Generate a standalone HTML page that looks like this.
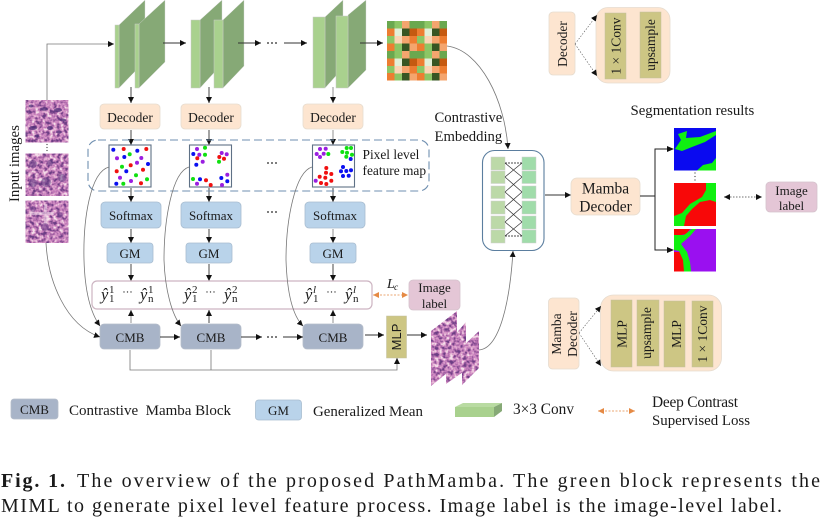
<!DOCTYPE html>
<html><head><meta charset="utf-8">
<style>html,body{margin:0;padding:0;background:#fff}svg{display:block;filter:blur(.3px)}
text{font-family:"Liberation Serif",serif;fill:#1a1a1a}
.c{text-anchor:middle}
.l{fill:none;stroke:#333;stroke-width:.9}
.g{fill:none;stroke:#777;stroke-width:.8}
.f{fill:#a9d18e;stroke:#c9c9c9;stroke-width:.5}
.s{fill:#86a976;stroke:#d8d8d8;stroke-width:.4}
.dec{fill:#fde5d0;stroke:#e6dccf;stroke-width:.8}
.bl{fill:#b9d3ea;stroke:#a9bdd0;stroke-width:.8}
.cm{fill:#a8b4c8;stroke:#b5bdca;stroke-width:.8}
.pk{fill:#e4c6d6;stroke:#d5c3cd;stroke-width:.8}
.ol{fill:#cdc684;stroke:#c2bfa0;stroke-width:.5}
.m{fill:#fff;stroke:#5f7186;stroke-width:1.1}
</style></head><body>
<svg width="831" height="521" viewBox="0 0 831 521" xmlns="http://www.w3.org/2000/svg">
<defs>
<marker id="a" markerUnits="userSpaceOnUse" markerWidth="8" markerHeight="8" refX="6" refY="3" orient="auto"><path d="M0,0 L6,3 L0,6 Z" fill="#111"/></marker>
<marker id="o" markerUnits="userSpaceOnUse" markerWidth="8" markerHeight="8" refX="6" refY="3" orient="auto-start-reverse"><path d="M0,0 L6,3 L0,6 Z" fill="#e58a45"/></marker>
<marker id="k" markerUnits="userSpaceOnUse" markerWidth="8" markerHeight="8" refX="6" refY="3" orient="auto-start-reverse"><path d="M0,0 L6,3 L0,6 Z" fill="#111"/></marker>
<filter id="h" x="0" y="0" width="1" height="1" color-interpolation-filters="sRGB">
<feTurbulence type="fractalNoise" baseFrequency="0.28" numOctaves="2" seed="7"/>
<feColorMatrix type="matrix" values="2.2 0 0 0 -.6  2.2 0 0 0 -.6  2.2 0 0 0 -.6  0 0 0 0 1"/>
<feComponentTransfer><feFuncR type="table" tableValues=".42 .6 .78 .87 .96"/><feFuncG type="table" tableValues=".24 .36 .5 .64 .88"/><feFuncB type="table" tableValues=".52 .62 .74 .8 .92"/></feComponentTransfer>
<feComposite operator="in" in2="SourceGraphic"/>
</filter>
</defs>

<!-- conv blocks -->
<polygon class="s" points="119,25 145,0 145,61 119,88"/><rect class="f" x="115" y="25" width="4" height="63"/>
<polygon class="s" points="139,24 165,0 165,62 139,88"/><rect class="f" x="135" y="24" width="4" height="64"/>
<polygon class="s" points="200,20 222,0 222,64 200,88"/><rect class="f" x="191" y="20" width="9" height="68"/>
<polygon class="s" points="223,20 244,0 244,66 223,88"/><rect class="f" x="214" y="20" width="9" height="68"/>
<polygon class="s" points="325,17 343,0 343,68 325,88"/><rect class="f" x="313" y="17" width="12" height="71"/>
<polygon class="s" points="348,15 366,0 366,70 348,88"/><rect class="f" x="336" y="16" width="12" height="72"/>

<!-- mosaic -->
<g stroke="none">
<rect x="387" y="21" width="60" height="59.5" fill="#6aa84f"/>
<g fill="#8cc665"><rect x="394.5" y="21" width="7.5" height="7.5"/><rect x="424.5" y="21" width="7.5" height="7.5"/><rect x="387" y="36" width="7.5" height="7.5"/><rect x="417" y="36" width="7.5" height="7.5"/><rect x="394.5" y="43.5" width="7.5" height="7.5"/><rect x="424.5" y="43.5" width="7.5" height="7.5"/><rect x="394.5" y="51" width="7.5" height="7.5"/><rect x="424.5" y="51" width="7.5" height="7.5"/><rect x="387" y="66" width="7.5" height="7.5"/><rect x="417" y="66" width="7.5" height="7.5"/><rect x="394.5" y="73" width="7.5" height="7.5"/><rect x="424.5" y="73" width="7.5" height="7.5"/></g>
<g fill="#f4a56e"><rect x="402" y="21" width="7.5" height="7.5"/><rect x="432" y="21" width="7.5" height="7.5"/><rect x="409.5" y="43.5" width="7.5" height="7.5"/><rect x="439.5" y="43.5" width="7.5" height="7.5"/><rect x="402" y="51" width="7.5" height="7.5"/><rect x="432" y="51" width="7.5" height="7.5"/><rect x="402" y="36" width="7.5" height="7.5"/><rect x="432" y="36" width="7.5" height="7.5"/><rect x="402" y="66" width="7.5" height="7.5"/><rect x="432" y="66" width="7.5" height="7.5"/><rect x="409.5" y="73" width="7.5" height="7.5"/><rect x="439.5" y="73" width="7.5" height="7.5"/></g>
<g fill="#ed7d31"><rect x="387" y="28.5" width="7.5" height="7.5"/><rect x="417" y="28.5" width="7.5" height="7.5"/><rect x="409.5" y="36" width="7.5" height="7.5"/><rect x="439.5" y="36" width="7.5" height="7.5"/><rect x="387" y="43.5" width="7.5" height="7.5"/><rect x="417" y="43.5" width="7.5" height="7.5"/><rect x="387" y="58.5" width="7.5" height="7.5"/><rect x="417" y="58.5" width="7.5" height="7.5"/><rect x="409.5" y="66" width="7.5" height="7.5"/><rect x="439.5" y="66" width="7.5" height="7.5"/><rect x="387" y="73" width="7.5" height="7.5"/><rect x="417" y="73" width="7.5" height="7.5"/></g>
<g fill="#e2efd9"><rect x="394.5" y="28.5" width="7.5" height="7.5"/><rect x="424.5" y="28.5" width="7.5" height="7.5"/><rect x="394.5" y="58.5" width="7.5" height="7.5"/><rect x="424.5" y="58.5" width="7.5" height="7.5"/></g>
<g fill="#fbd5b5"><rect x="394.5" y="36" width="7.5" height="7.5"/><rect x="424.5" y="36" width="7.5" height="7.5"/><rect x="394.5" y="66" width="7.5" height="7.5"/><rect x="424.5" y="66" width="7.5" height="7.5"/></g>
<g fill="#375623"><rect x="402" y="28.5" width="7.5" height="7.5"/><rect x="432" y="28.5" width="7.5" height="7.5"/><rect x="402" y="43.5" width="7.5" height="7.5"/><rect x="432" y="43.5" width="7.5" height="7.5"/><rect x="402" y="58.5" width="7.5" height="7.5"/><rect x="432" y="58.5" width="7.5" height="7.5"/><rect x="402" y="73" width="7.5" height="7.5"/><rect x="432" y="73" width="7.5" height="7.5"/></g>
<g fill="#c55a11"><rect x="409.5" y="28.5" width="7.5" height="7.5"/><rect x="439.5" y="28.5" width="7.5" height="7.5"/><rect x="409.5" y="58.5" width="7.5" height="7.5"/><rect x="439.5" y="58.5" width="7.5" height="7.5"/></g>
</g>

<!-- top flow -->
<path class="g" d="M47,100 V44 H114" marker-end="url(#a)"/>
<path class="l" d="M163,43 H186" marker-end="url(#a)"/>
<path class="l" d="M238,43 H261" marker-end="url(#a)"/>
<path class="l" d="M284,43 H307" marker-end="url(#a)"/>
<path class="l" d="M360,43 H383" marker-end="url(#a)"/>
<g fill="#222"><circle cx="268" cy="43" r=".9"/><circle cx="272" cy="43" r=".9"/><circle cx="276" cy="43" r=".9"/>
<circle cx="268" cy="163" r=".9"/><circle cx="272" cy="163" r=".9"/><circle cx="276" cy="163" r=".9"/>
<circle cx="268" cy="212" r=".9"/><circle cx="272" cy="212" r=".9"/><circle cx="276" cy="212" r=".9"/>
<circle cx="268" cy="297" r=".9"/><circle cx="272" cy="297" r=".9"/><circle cx="276" cy="297" r=".9"/>
<circle cx="268" cy="337" r=".9"/><circle cx="272" cy="337" r=".9"/><circle cx="276" cy="337" r=".9"/></g>

<!-- vertical arrows -->
<path class="l" d="M131,87 V103" marker-end="url(#a)"/><path class="l" d="M209,87 V103" marker-end="url(#a)"/><path class="g" d="M333,87 V103" marker-end="url(#a)"/>
<path class="l" d="M131,130 V145" marker-end="url(#a)"/><path class="l" d="M209,130 V145" marker-end="url(#a)"/><path class="g" d="M333,130 V145" marker-end="url(#a)"/>
<path class="l" d="M131,188 V202" marker-end="url(#a)"/><path class="l" d="M209,188 V202" marker-end="url(#a)"/><path class="l" d="M333,188 V202" marker-end="url(#a)"/>
<path class="l" d="M131,229 V243" marker-end="url(#a)"/><path class="l" d="M209,229 V243" marker-end="url(#a)"/><path class="g" d="M333,229 V243" marker-end="url(#a)"/>
<path class="l" d="M131,264 V281" marker-end="url(#a)"/><path class="l" d="M209,264 V281" marker-end="url(#a)"/><path class="l" d="M333,264 V281" marker-end="url(#a)"/>
<path class="g" d="M131,323 V310" marker-end="url(#a)"/><path class="l" d="M209,323 V310" marker-end="url(#a)"/><path class="g" d="M333,323 V310" marker-end="url(#a)"/>

<!-- Decoder -->
<rect class="dec" x="100" y="104" width="60" height="25" rx="4"/><rect class="dec" x="181" y="104" width="60" height="25" rx="4"/><rect class="dec" x="303" y="104" width="60" height="25" rx="4"/>
<g font-size="13.5"><text class="c" x="130" y="122">Decoder</text><text class="c" x="211" y="122">Decoder</text><text class="c" x="333" y="122">Decoder</text></g>

<!-- dashed -->
<rect x="88" y="140" width="341" height="51" rx="10" fill="none" stroke="#6f8fb0" stroke-width="1.1" stroke-dasharray="8 4"/>

<!-- maps -->
<rect class="m" x="109" y="145" width="42" height="42"/><rect class="m" x="189.500" y="145" width="42" height="42"/><rect class="m" x="312.500" y="145" width="42" height="42"/>
<g fill="#0a0ff0">
<circle cx="113.300" cy="149.700" r="2"/><circle cx="137.300" cy="150.700" r="2"/><circle cx="124.300" cy="157" r="2"/><circle cx="148" cy="164" r="2"/><circle cx="126.300" cy="171.300" r="2"/><circle cx="116.300" cy="183.700" r="2"/>
<circle cx="193.300" cy="154" r="2"/><circle cx="196.300" cy="164.700" r="2"/><circle cx="200" cy="179.300" r="2"/><circle cx="221.300" cy="178" r="2"/><circle cx="227.300" cy="181.300" r="2"/>
<circle cx="350.700" cy="159" r="2"/><circle cx="343" cy="167" r="2"/><circle cx="341" cy="171.300" r="2"/><circle cx="346.300" cy="171" r="2"/><circle cx="351" cy="170.300" r="2"/><circle cx="343" cy="176" r="2"/><circle cx="348.700" cy="175.700" r="2"/></g>
<g fill="#f01010">
<circle cx="123.700" cy="149" r="2"/><circle cx="146.300" cy="149" r="2"/><circle cx="130.700" cy="165.300" r="2"/><circle cx="116.700" cy="171.300" r="2"/><circle cx="143" cy="169.700" r="2"/><circle cx="141" cy="183.300" r="2"/>
<circle cx="219.300" cy="157" r="2"/><circle cx="224" cy="158.700" r="2"/><circle cx="197.300" cy="158.300" r="2"/><circle cx="206" cy="180.300" r="2"/><circle cx="210.700" cy="185" r="2"/>
<circle cx="326.300" cy="168" r="2"/><circle cx="326" cy="172.700" r="2"/><circle cx="331.300" cy="174" r="2"/><circle cx="319.700" cy="176.700" r="2"/><circle cx="325.300" cy="177.700" r="2"/><circle cx="331.300" cy="180.700" r="2"/><circle cx="321" cy="183" r="2"/><circle cx="326.300" cy="184" r="2"/></g>
<g fill="#10e010">
<circle cx="129.700" cy="154.300" r="2"/><circle cx="122" cy="166.700" r="2"/><circle cx="136" cy="175.300" r="2"/><circle cx="147" cy="179.300" r="2"/><circle cx="123.300" cy="183.700" r="2"/>
<circle cx="205" cy="147.700" r="2"/><circle cx="205" cy="154.700" r="2"/><circle cx="219" cy="161.700" r="2"/><circle cx="193" cy="179" r="2"/>
<circle cx="328.300" cy="154" r="2"/><circle cx="342.300" cy="152" r="2"/><circle cx="346.700" cy="148" r="2"/><circle cx="351" cy="148" r="2"/><circle cx="347" cy="152.700" r="2"/><circle cx="352" cy="154.700" r="2"/><circle cx="346.300" cy="156.700" r="2"/></g>
<g fill="#9a1ee0">
<circle cx="117" cy="158.300" r="2"/><circle cx="141.300" cy="158" r="2"/><circle cx="137" cy="162.700" r="2"/><circle cx="120" cy="177.700" r="2"/><circle cx="131" cy="181" r="2"/>
<circle cx="197" cy="149" r="2"/><circle cx="199.300" cy="154.700" r="2"/><circle cx="221.700" cy="153" r="2"/><circle cx="226.700" cy="154.300" r="2"/><circle cx="202.700" cy="161.700" r="2"/><circle cx="227.300" cy="174.700" r="2"/><circle cx="197" cy="183.700" r="2"/><circle cx="222" cy="185" r="2"/>
<circle cx="320" cy="149" r="2"/><circle cx="325.700" cy="148.700" r="2"/><circle cx="316.700" cy="154" r="2"/><circle cx="323.700" cy="153.700" r="2"/><circle cx="320" cy="157" r="2"/><circle cx="315.700" cy="180.700" r="2"/></g>

<text x="362.500" y="159" font-size="13.400">Pixel level</text>
<text x="362.500" y="175" font-size="13.400">feature map</text>

<!-- Softmax / GM -->
<rect class="bl" x="101" y="202" width="60" height="26" rx="4"/><rect class="bl" x="181" y="202" width="60" height="26" rx="4"/><rect class="bl" x="305" y="202" width="60" height="26" rx="4"/>
<g font-size="13"><text class="c" x="131" y="220">Softmax</text><text class="c" x="211" y="220">Softmax</text><text class="c" x="335" y="220">Softmax</text></g>
<rect class="bl" x="107" y="243" width="46" height="20" rx="3"/><rect class="bl" x="186" y="243" width="46" height="20" rx="3"/><rect class="bl" x="310" y="243" width="46" height="20" rx="3"/>
<g font-size="13"><text class="c" x="130" y="258">GM</text><text class="c" x="209" y="258">GM</text><text class="c" x="333" y="258">GM</text></g>

<!-- y hat box -->
<rect x="92" y="281" width="280" height="28" rx="5" fill="#fff" stroke="#cdb5c2" stroke-width="1.200"/>
<g font-size="16.500" font-style="italic">
<text x="101" y="300">ŷ</text><text x="140" y="300">ŷ</text><text x="184" y="300">ŷ</text><text x="224" y="300">ŷ</text><text x="305" y="300">ŷ</text><text x="345" y="300">ŷ</text></g>
<g font-size="11">
<text x="109" y="293">1</text><text x="109" y="302">1</text><text x="148" y="293">1</text><text x="148" y="302">n</text>
<text x="192" y="293">2</text><text x="192" y="302">1</text><text x="232" y="293">2</text><text x="232" y="302">n</text>
<text x="313" y="293" font-style="italic">l</text><text x="313" y="302">1</text><text x="353" y="293" font-style="italic">l</text><text x="353" y="302">n</text></g>
<g fill="#444"><circle cx="124" cy="292" r=".7"/><circle cx="127.500" cy="292" r=".7"/><circle cx="131" cy="292" r=".7"/>
<circle cx="207" cy="292" r=".7"/><circle cx="210.500" cy="292" r=".7"/><circle cx="214" cy="292" r=".7"/>
<circle cx="328" cy="292" r=".7"/><circle cx="331.500" cy="292" r=".7"/><circle cx="335" cy="292" r=".7"/></g>
<text x="387" y="288" font-size="14" font-style="italic">L</text><text x="394" y="290" font-size="9.500" font-style="italic">c</text>
<path d="M373,295 H408" fill="none" stroke="#e58a45" stroke-width=".8" stroke-dasharray="2 1.500" marker-start="url(#o)" marker-end="url(#o)"/>
<rect class="pk" x="409" y="280" width="51" height="30" rx="4"/>
<text class="c" x="434.500" y="292" font-size="13">Image</text><text class="c" x="434.500" y="308" font-size="13">label</text>

<!-- CMB -->
<rect class="cm" x="100" y="324" width="60" height="25" rx="4"/><rect class="cm" x="181" y="324" width="60" height="25" rx="4"/><rect class="cm" x="303" y="324" width="60" height="25" rx="4"/>
<g font-size="13"><text class="c" x="130" y="342">CMB</text><text class="c" x="211" y="342">CMB</text><text class="c" x="333" y="342">CMB</text></g>
<path class="l" d="M160,337 H180" marker-end="url(#a)"/>
<path class="l" d="M241,337 H262" marker-end="url(#a)"/>
<path class="l" d="M283,337 H303" marker-end="url(#a)"/>
<path class="l" d="M365,335 H384" marker-end="url(#a)"/>
<path class="l" d="M407,335 H427" marker-end="url(#a)"/>
<rect class="ol" x="386.500" y="316" width="20" height="42"/>
<text transform="translate(401,337) rotate(-90)" class="c" font-size="13" style="font-family:'Liberation Sans',sans-serif">MLP</text>
<path class="g" d="M130,350 V370 H397 V358" marker-end="url(#a)"/>
<path class="g" d="M211,350 V370" stroke="#aaa"/>

<!-- input images -->
<rect x="25.500" y="100" width="43" height="42.500" fill="#c47fb5" filter="url(#h)"/>
<g fill="#4f2f78" opacity=".75"><ellipse cx="31" cy="106" rx="2.500" ry="1.500"/><ellipse cx="44" cy="109" rx="4" ry="1.800"/><ellipse cx="58" cy="110" rx="4" ry="2"/><ellipse cx="63" cy="120" rx="3" ry="1.500"/><ellipse cx="50" cy="128" rx="3" ry="2"/><ellipse cx="33" cy="128" rx="4" ry="2"/><ellipse cx="59" cy="132" rx="3" ry="1.500"/><ellipse cx="37" cy="136" rx="2.500" ry="1.500"/></g>
<rect x="25.500" y="153.500" width="43" height="42.500" fill="#b777ae" filter="url(#h)"/>
<g fill="#5a3a80" opacity=".5"><circle cx="33" cy="164" r="4"/><circle cx="46" cy="182" r="5"/><circle cx="33" cy="183" r="4"/><circle cx="62" cy="178" r="4"/><circle cx="50" cy="163" r="3"/></g>
<rect x="25.500" y="200.500" width="43" height="42.500" fill="#c98fc0" filter="url(#h)"/>
<g fill="#f3e3ef" opacity=".5"><rect x="30" y="212" width="24" height="3"/><rect x="44" y="204" width="3" height="20"/></g>
<g fill="#6d3f8a" opacity=".5"><circle cx="45" cy="227" r="4"/><circle cx="33" cy="209" r="3"/><circle cx="60" cy="215" r="3"/></g>
<g fill="#333"><circle cx="47" cy="144.500" r=".6"/><circle cx="47" cy="147.500" r=".6"/><circle cx="47" cy="150.500" r=".6"/></g>
<text transform="translate(19,202) rotate(-90)" font-size="14.800">Input images</text>

<!-- curves -->
<path class="g" d="M46,243 C48,280 65,325 100,337" marker-end="url(#a)"/>
<path class="g" d="M109,167 C90,172 83,220 84,260 C85,295 92,315 100,326" marker-end="url(#a)"/>
<path class="g" d="M189,167 C172,172 164,220 164,260 C165,290 172,315 181,326" marker-end="url(#a)"/>
<path class="g" d="M312,167 C295,172 286,220 286,260 C287,290 292,315 303,326" marker-end="url(#a)"/>
<path class="g" d="M447,46 C480,50 505,100 508,149" marker-end="url(#a)"/>
<path class="g" d="M478,350 C500,350 510,300 513,251" marker-end="url(#a)"/>

<!-- stack -->
<polygon points="431,331 457,311 457,365 431,386" fill="#b56aa8" filter="url(#h)"/>
<polygon points="446,345 466,322 466,370 446,384" fill="#b56aa8" filter="url(#h)"/>
<polygon points="462,347 479,331 479,368 462,385" fill="#c389bb" filter="url(#h)"/>

<!-- contrastive embedding -->
<text x="434.500" y="122" font-size="14.700">Contrastive</text>
<text x="434.500" y="141" font-size="14.700">Embedding</text>
<rect x="482.500" y="150.500" width="61.500" height="100" rx="12" fill="#fff" stroke="#5b7e9f" stroke-width="1.100"/>
<g fill="#bcd9a8" stroke="#cfcfcf" stroke-width=".5"><rect x="491" y="157" width="14" height="13"/><rect x="491" y="171" width="14" height="12.500"/><rect x="491" y="186" width="14" height="12.500"/><rect x="491" y="201" width="14" height="13"/><rect x="491" y="216" width="14" height="13"/><rect x="491" y="230" width="14" height="13"/></g>
<g fill="#a0dcaa" stroke="#cfcfcf" stroke-width=".5"><rect x="522" y="157" width="14" height="13"/><rect x="522" y="171" width="14" height="12.500"/><rect x="522" y="186" width="14" height="12.500"/><rect x="522" y="201" width="14" height="13"/><rect x="522" y="216" width="14" height="13"/><rect x="522" y="230" width="14" height="13"/></g>
<path fill="none" stroke="#333" stroke-width=".7" d="M505,163 L522,177 M505,177 L522,163 M505,177 L522,192 M505,192 L522,177 M505,192 L522,207 M505,207 L522,192 M505,207 L522,222 M505,222 L522,207 M505,222 L522,236 M505,236 L522,222"/>
<path fill="none" stroke="#111" stroke-width=".8" stroke-dasharray="2 1" d="M505,163 H522 M505,236 H522"/>
<path class="l" d="M545,195 H571" marker-end="url(#a)"/>
<rect class="dec" x="571" y="178" width="69" height="37" rx="6"/>
<text class="c" x="605.500" y="193.500" font-size="15.500">Mamba</text><text class="c" x="605.500" y="211.500" font-size="15.500">Decoder</text>
<path fill="none" stroke="#222" stroke-width="1" d="M640,196 H655 M673,149 H655 V250 H673"/>
<path d="M667,146 L674,149 L667,152 Z M667,247 L674,250 L667,253 Z" fill="#111"/>

<!-- seg -->
<text x="630.500" y="115" font-size="14.800">Segmentation results</text>
<rect x="674" y="128" width="42" height="42.500" fill="#0a0af0"/>
<path fill="#10f010" d="M675,149 L681,140 L678,134 L687,131 L686,138 L700,137 L716,131 L716,135 L705,142 L692,147 L682,151 Z M697,170.500 L703,165 L712,163 L716,158 L716,170.500 Z"/>
<rect x="674" y="183" width="42" height="43" fill="#f80808"/>
<path fill="#10f010" d="M706,183 L716,183 L716,202 L710,200 L700,202 L692,209 L686,216 L684,226 L674,226 L674,216 L682,213 L690,204 L702,197 L706,190 Z"/>
<rect x="674" y="229" width="42" height="42.500" fill="#9a10f0"/>
<path fill="#f80808" d="M674,229 H690 L686,234 L676,236 L674,236 Z M674,252 L680,252 L684,262 L684,271.500 H674 Z"/>
<path fill="#10f010" d="M674,235 L684,235 L692,229 L696,229 L690,236 L681,244 L687,252 L690,262 L691,271.500 L684,271.500 L683,260 L679,251 L674,250 Z"/>
<g fill="#333"><circle cx="695" cy="173" r=".6"/><circle cx="695" cy="176.500" r=".6"/><circle cx="695" cy="180" r=".6"/></g>
<path fill="none" stroke="#444" stroke-width=".7" stroke-dasharray="1.500 1.500" d="M724,197 H762" marker-start="url(#k)" marker-end="url(#k)"/>
<rect class="pk" x="766" y="182" width="51" height="30" rx="4"/>
<text class="c" x="791.500" y="195" font-size="13">Image</text><text class="c" x="791.500" y="210" font-size="13">label</text>

<!-- top right decoder -->
<rect class="dec" x="549" y="12" width="26" height="63" rx="4"/>
<text transform="translate(567,44) rotate(-90)" class="c" font-size="13.500">Decoder</text>
<rect class="dec" x="596" y="7.500" width="74" height="75.500" rx="12"/>
<rect class="ol" x="605" y="13" width="21" height="66"/><rect class="ol" x="640" y="12" width="21" height="66"/>
<text transform="translate(620.500,46) rotate(-90)" class="c" font-size="13.500">1 × 1Conv</text>
<text transform="translate(655,45) rotate(-90)" class="c" font-size="13.500">upsample</text>
<path fill="none" stroke="#555" stroke-width=".6" stroke-dasharray="1.500 1.500" d="M575,44 L597,15" marker-end="url(#k)"/>
<path fill="none" stroke="#555" stroke-width=".6" stroke-dasharray="1.500 1.500" d="M575,44 L597,76" marker-end="url(#k)"/>

<!-- bottom right decoder -->
<rect class="dec" x="548.500" y="298" width="30.500" height="71" rx="4"/>
<text transform="translate(561,334) rotate(-90)" class="c" font-size="13.500">Mamba</text>
<text transform="translate(577,334) rotate(-90)" class="c" font-size="13.500">Decoder</text>
<rect class="dec" x="600.500" y="295" width="121" height="76" rx="13"/>
<rect class="ol" x="611" y="300" width="21" height="67"/><rect class="ol" x="637" y="300" width="22" height="66"/><rect class="ol" x="664" y="301" width="21" height="66"/><rect class="ol" x="692" y="301" width="21" height="66"/>
<text transform="translate(626.500,334) rotate(-90)" class="c" font-size="13.500">MLP</text>
<text transform="translate(651,333) rotate(-90)" class="c" font-size="13.500">upsample</text>
<text transform="translate(681,334) rotate(-90)" class="c" font-size="13.500">MLP</text>
<text transform="translate(707,334) rotate(-90)" class="c" font-size="13.500">1 × 1Conv</text>
<path fill="none" stroke="#555" stroke-width=".6" stroke-dasharray="1.500 1.500" d="M579,333 L601,306" marker-end="url(#k)"/>
<path fill="none" stroke="#555" stroke-width=".6" stroke-dasharray="1.500 1.500" d="M579,333 L601,366" marker-end="url(#k)"/>

<!-- legend -->
<rect class="cm" x="11" y="399" width="47" height="20" rx="3"/>
<text class="c" x="34.500" y="414" font-size="13">CMB</text>
<text x="69" y="415" font-size="15" textLength="162" xml:space="preserve">Contrastive  Mamba Block</text>
<rect class="bl" x="255.500" y="400" width="46" height="20" rx="3"/>
<text class="c" x="278.500" y="415" font-size="13">GM</text>
<text x="313" y="416" font-size="14.900" textLength="110">Generalized Mean</text>
<polygon points="455,407 463,403 502,403 494,407" fill="#b9dba2"/>
<polygon points="494,407 502,403 502,411 494,417" fill="#86a976"/>
<rect x="455" y="407" width="39" height="10" fill="#a9d18e"/>
<text x="513" y="414" font-size="15.300" textLength="61">3×3 Conv</text>
<path d="M598,411 H635" fill="none" stroke="#e58a45" stroke-width=".7" stroke-dasharray="2 1.500" marker-start="url(#o)" marker-end="url(#o)"/>
<text x="652" y="407" font-size="15.400" textLength="86">Deep Contrast</text>
<text x="652" y="425" font-size="14.900" textLength="98">Supervised Loss</text>

<!-- caption -->
<text x="1" y="487" font-size="20" font-weight="bold" textLength="64" lengthAdjust="spacing" fill="#000">Fig. 1.</text>
<text x="77" y="487" font-size="20" textLength="743" lengthAdjust="spacing" fill="#000">The overview of the proposed PathMamba. The green block represents the</text>
<text x="1" y="512" font-size="20" textLength="781" lengthAdjust="spacing" fill="#000">MIML to generate pixel level feature process. Image label is the image-level label.</text>
</svg>
</body></html>
